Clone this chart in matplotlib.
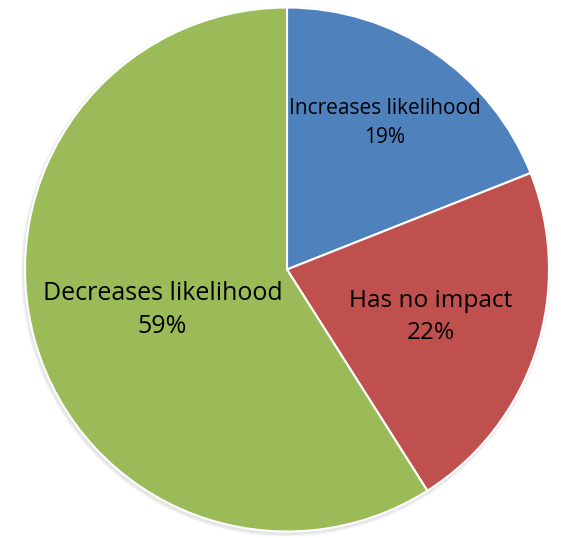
import matplotlib
matplotlib.use("Agg")
import matplotlib.pyplot as plt
from matplotlib.patches import Circle

categories = ["Increases likelihood", "Has no impact", "Decreases likelihood"]
values = [19, 22, 59]
colors = ["#4F81BD", "#C0504D", "#9BBB59"]

W, H = 561, 538
fig = plt.figure(figsize=(W / 100, H / 100), dpi=100)
cx, cy, r = 287, 269.5, 262
ax = fig.add_axes([(cx - r) / W, (H - cy - r) / H, 2 * r / W, 2 * r / H])
ax.set_xlim(-1, 1)
ax.set_ylim(-1, 1)
ax.set_aspect("equal")
ax.axis("off")

# soft shadow
for i, a in enumerate([0.05, 0.05, 0.05, 0.06]):
    ax.add_patch(Circle((-0.004, -0.008), 1 + 0.012 - i * 0.003, color="gray",
                        alpha=a, lw=0, clip_on=False))

wedges, _ = ax.pie(values, colors=colors, startangle=90, counterclock=False,
                   radius=1, wedgeprops=dict(edgecolor="white", linewidth=1.5))
ax.set_xlim(-1, 1)
ax.set_ylim(-1, 1)
for w in wedges:
    w.set_clip_on(False)

font = "Open Sans"
label_pos = [(0.374, 0.559), (0.55, -0.181), (-0.475, -0.155)]
sizes = [15, 17.6, 18]
spacings = [1.5, 1.4, 1.42]
for cat, v, (x, y), s, ls in zip(categories, values, label_pos, sizes, spacings):
    ax.text(x, y, f"{cat}\n{v}%", ha="center", va="center", fontsize=s,
            family=font, linespacing=ls, color="black")

fig.savefig("out.png", dpi=100)
